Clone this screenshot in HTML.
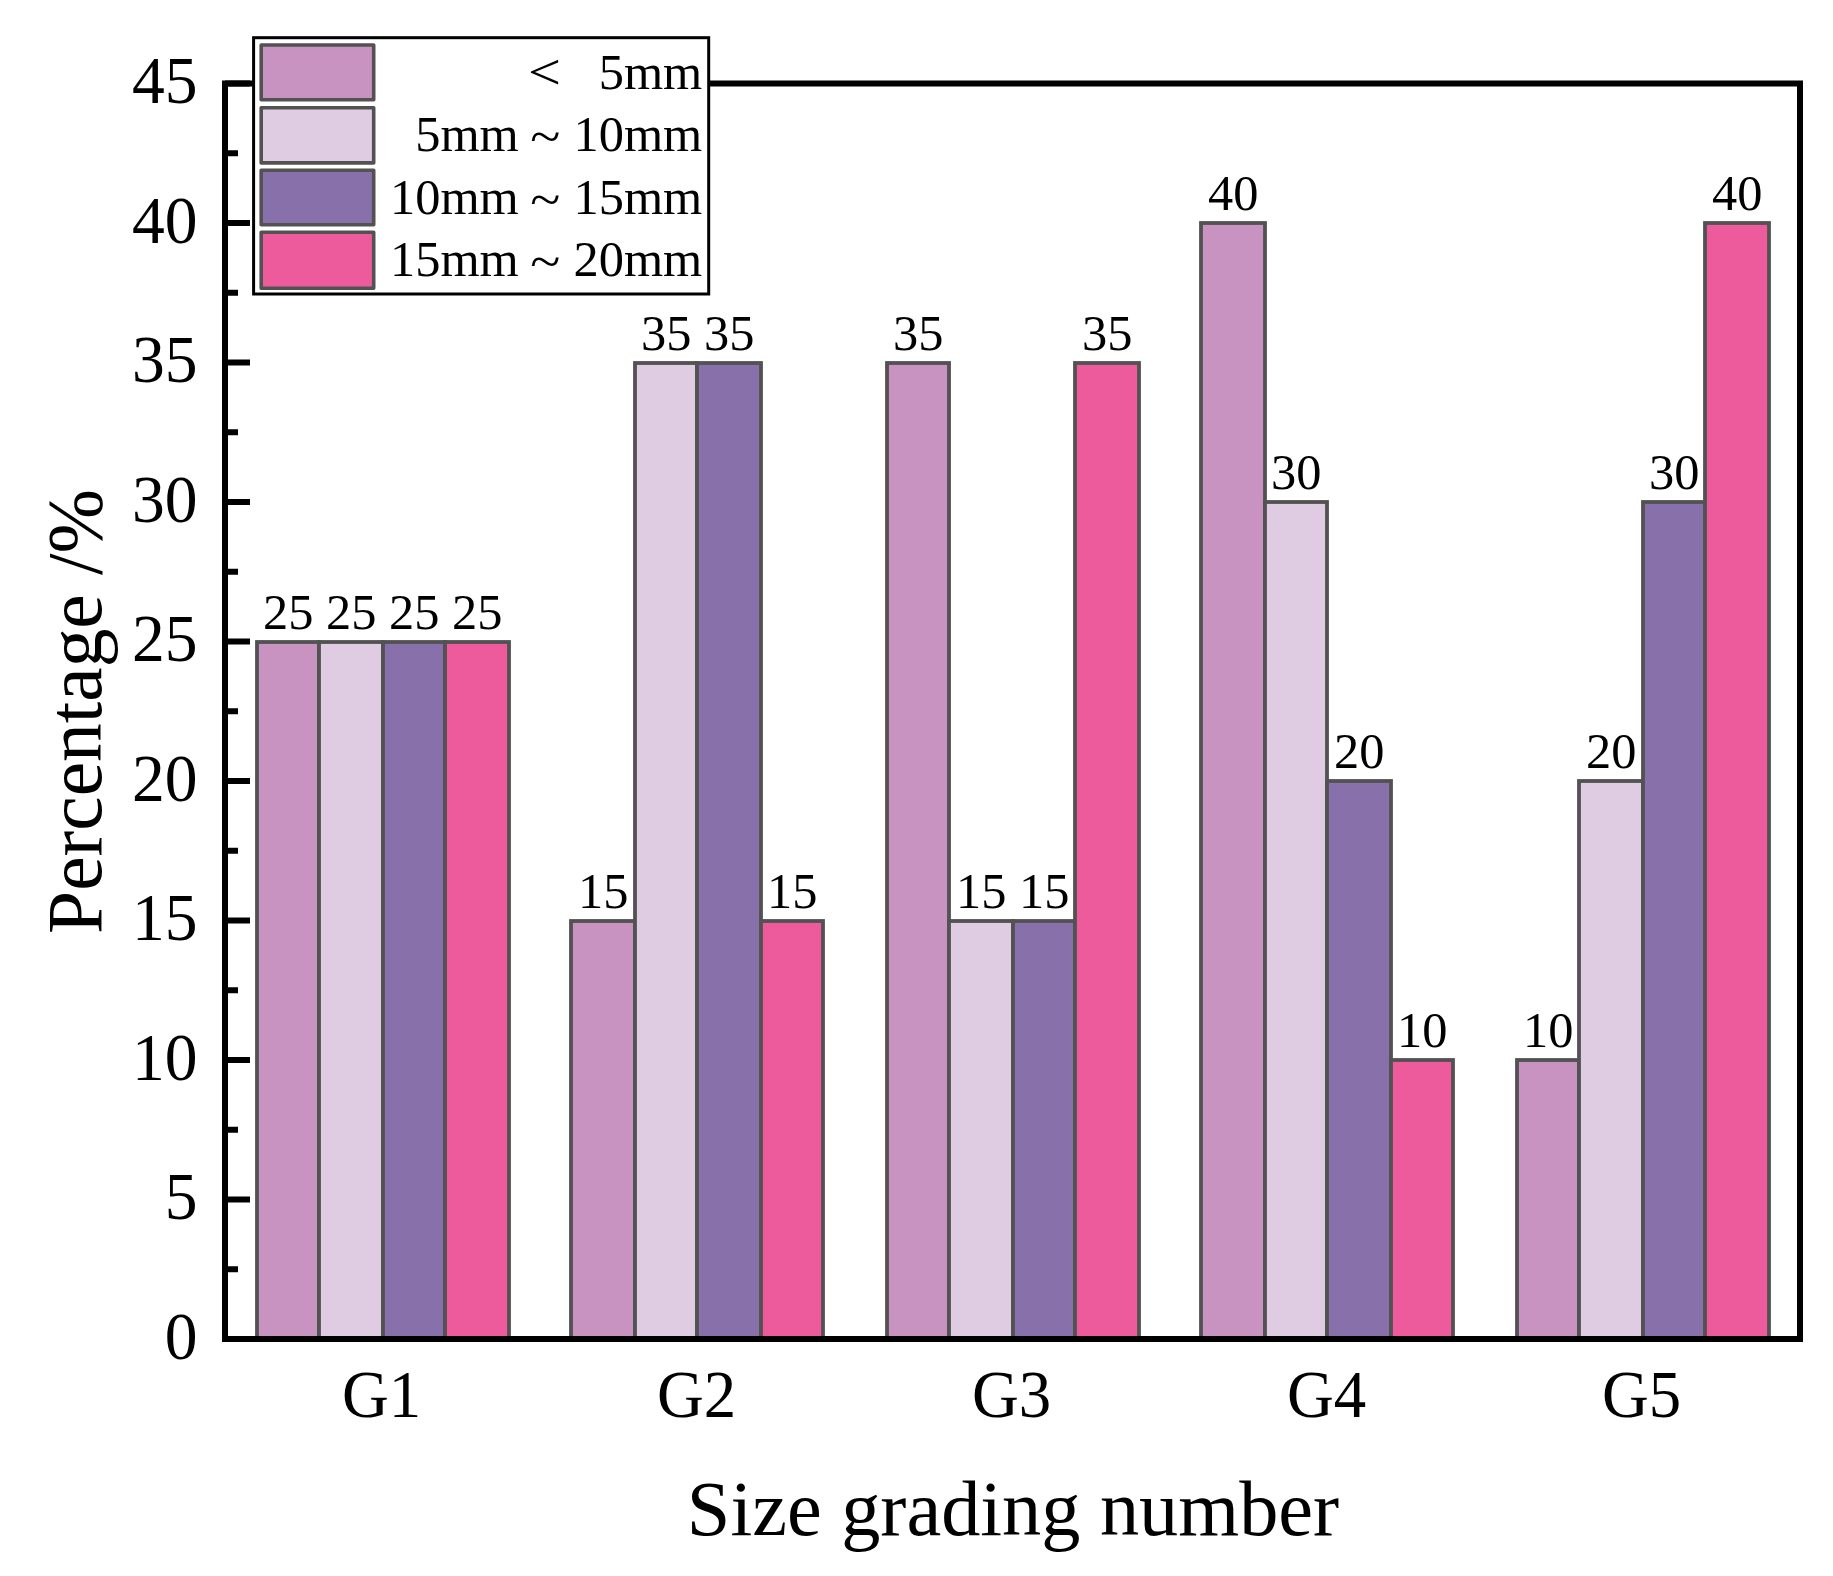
<!DOCTYPE html>
<html><head><meta charset="utf-8"><title>Size grading chart</title>
<style>html,body{margin:0;padding:0;background:#fff}body{width:1833px;height:1576px;overflow:hidden}</style></head>
<body>
<svg width="1833" height="1576" viewBox="0 0 1833 1576" style="display:block">
<rect width="1833" height="1576" fill="#fff"/>
<rect x="257" y="642" width="62" height="697.00" fill="#C893C0" stroke="#525252" stroke-width="3.8"/>
<text x="288.30" y="629.20" font-size="50.4" text-anchor="middle" font-family="Liberation Serif, Times New Roman, serif">25</text>
<rect x="319" y="642" width="64" height="697.00" fill="#DFCCE3" stroke="#525252" stroke-width="3.8"/>
<text x="351.30" y="629.20" font-size="50.4" text-anchor="middle" font-family="Liberation Serif, Times New Roman, serif">25</text>
<rect x="383" y="642" width="62" height="697.00" fill="#8870AB" stroke="#525252" stroke-width="3.8"/>
<text x="414.30" y="629.20" font-size="50.4" text-anchor="middle" font-family="Liberation Serif, Times New Roman, serif">25</text>
<rect x="445" y="642" width="64" height="697.00" fill="#EE5B9D" stroke="#525252" stroke-width="3.8"/>
<text x="477.30" y="629.20" font-size="50.4" text-anchor="middle" font-family="Liberation Serif, Times New Roman, serif">25</text>
<rect x="571" y="921" width="64" height="418.00" fill="#C893C0" stroke="#525252" stroke-width="3.8"/>
<text x="603.30" y="908.20" font-size="50.4" text-anchor="middle" font-family="Liberation Serif, Times New Roman, serif">15</text>
<rect x="635" y="363" width="62" height="976.00" fill="#DFCCE3" stroke="#525252" stroke-width="3.8"/>
<text x="666.30" y="350.20" font-size="50.4" text-anchor="middle" font-family="Liberation Serif, Times New Roman, serif">35</text>
<rect x="697" y="363" width="64" height="976.00" fill="#8870AB" stroke="#525252" stroke-width="3.8"/>
<text x="729.30" y="350.20" font-size="50.4" text-anchor="middle" font-family="Liberation Serif, Times New Roman, serif">35</text>
<rect x="761" y="921" width="62" height="418.00" fill="#EE5B9D" stroke="#525252" stroke-width="3.8"/>
<text x="792.30" y="908.20" font-size="50.4" text-anchor="middle" font-family="Liberation Serif, Times New Roman, serif">15</text>
<rect x="887" y="363" width="62" height="976.00" fill="#C893C0" stroke="#525252" stroke-width="3.8"/>
<text x="918.30" y="350.20" font-size="50.4" text-anchor="middle" font-family="Liberation Serif, Times New Roman, serif">35</text>
<rect x="949" y="921" width="64" height="418.00" fill="#DFCCE3" stroke="#525252" stroke-width="3.8"/>
<text x="981.30" y="908.20" font-size="50.4" text-anchor="middle" font-family="Liberation Serif, Times New Roman, serif">15</text>
<rect x="1013" y="921" width="62" height="418.00" fill="#8870AB" stroke="#525252" stroke-width="3.8"/>
<text x="1044.30" y="908.20" font-size="50.4" text-anchor="middle" font-family="Liberation Serif, Times New Roman, serif">15</text>
<rect x="1075" y="363" width="64" height="976.00" fill="#EE5B9D" stroke="#525252" stroke-width="3.8"/>
<text x="1107.30" y="350.20" font-size="50.4" text-anchor="middle" font-family="Liberation Serif, Times New Roman, serif">35</text>
<rect x="1201" y="223" width="64" height="1116.00" fill="#C893C0" stroke="#525252" stroke-width="3.8"/>
<text x="1233.30" y="210.20" font-size="50.4" text-anchor="middle" font-family="Liberation Serif, Times New Roman, serif">40</text>
<rect x="1265" y="502" width="62" height="837.00" fill="#DFCCE3" stroke="#525252" stroke-width="3.8"/>
<text x="1296.30" y="489.20" font-size="50.4" text-anchor="middle" font-family="Liberation Serif, Times New Roman, serif">30</text>
<rect x="1327" y="781" width="64" height="558.00" fill="#8870AB" stroke="#525252" stroke-width="3.8"/>
<text x="1359.30" y="768.20" font-size="50.4" text-anchor="middle" font-family="Liberation Serif, Times New Roman, serif">20</text>
<rect x="1391" y="1060" width="62" height="279.00" fill="#EE5B9D" stroke="#525252" stroke-width="3.8"/>
<text x="1422.30" y="1047.20" font-size="50.4" text-anchor="middle" font-family="Liberation Serif, Times New Roman, serif">10</text>
<rect x="1517" y="1060" width="62" height="279.00" fill="#C893C0" stroke="#525252" stroke-width="3.8"/>
<text x="1548.30" y="1047.20" font-size="50.4" text-anchor="middle" font-family="Liberation Serif, Times New Roman, serif">10</text>
<rect x="1579" y="781" width="64" height="558.00" fill="#DFCCE3" stroke="#525252" stroke-width="3.8"/>
<text x="1611.30" y="768.20" font-size="50.4" text-anchor="middle" font-family="Liberation Serif, Times New Roman, serif">20</text>
<rect x="1643" y="502" width="62" height="837.00" fill="#8870AB" stroke="#525252" stroke-width="3.8"/>
<text x="1674.30" y="489.20" font-size="50.4" text-anchor="middle" font-family="Liberation Serif, Times New Roman, serif">30</text>
<rect x="1705" y="223" width="64" height="1116.00" fill="#EE5B9D" stroke="#525252" stroke-width="3.8"/>
<text x="1737.30" y="210.20" font-size="50.4" text-anchor="middle" font-family="Liberation Serif, Times New Roman, serif">40</text>
<rect x="225.0" y="83.5" width="1575.0" height="1255.5" fill="none" stroke="#000" stroke-width="6"/>
<line x1="225.0" y1="1339.00" x2="250" y2="1339.00" stroke="#000" stroke-width="6"/>
<text x="197.4" y="1358.70" font-size="67.2" text-anchor="end" textLength="32.76" lengthAdjust="spacingAndGlyphs" font-family="Liberation Serif, Times New Roman, serif">0</text>
<line x1="225.0" y1="1269.25" x2="238" y2="1269.25" stroke="#000" stroke-width="6"/>
<line x1="225.0" y1="1199.50" x2="250" y2="1199.50" stroke="#000" stroke-width="6"/>
<text x="197.4" y="1219.20" font-size="67.2" text-anchor="end" textLength="32.76" lengthAdjust="spacingAndGlyphs" font-family="Liberation Serif, Times New Roman, serif">5</text>
<line x1="225.0" y1="1129.75" x2="238" y2="1129.75" stroke="#000" stroke-width="6"/>
<line x1="225.0" y1="1060.00" x2="250" y2="1060.00" stroke="#000" stroke-width="6"/>
<text x="197.4" y="1079.70" font-size="67.2" text-anchor="end" textLength="65.52" lengthAdjust="spacingAndGlyphs" font-family="Liberation Serif, Times New Roman, serif">10</text>
<line x1="225.0" y1="990.25" x2="238" y2="990.25" stroke="#000" stroke-width="6"/>
<line x1="225.0" y1="920.50" x2="250" y2="920.50" stroke="#000" stroke-width="6"/>
<text x="197.4" y="940.20" font-size="67.2" text-anchor="end" textLength="65.52" lengthAdjust="spacingAndGlyphs" font-family="Liberation Serif, Times New Roman, serif">15</text>
<line x1="225.0" y1="850.75" x2="238" y2="850.75" stroke="#000" stroke-width="6"/>
<line x1="225.0" y1="781.00" x2="250" y2="781.00" stroke="#000" stroke-width="6"/>
<text x="197.4" y="800.70" font-size="67.2" text-anchor="end" textLength="65.52" lengthAdjust="spacingAndGlyphs" font-family="Liberation Serif, Times New Roman, serif">20</text>
<line x1="225.0" y1="711.25" x2="238" y2="711.25" stroke="#000" stroke-width="6"/>
<line x1="225.0" y1="641.50" x2="250" y2="641.50" stroke="#000" stroke-width="6"/>
<text x="197.4" y="661.20" font-size="67.2" text-anchor="end" textLength="65.52" lengthAdjust="spacingAndGlyphs" font-family="Liberation Serif, Times New Roman, serif">25</text>
<line x1="225.0" y1="571.75" x2="238" y2="571.75" stroke="#000" stroke-width="6"/>
<line x1="225.0" y1="502.00" x2="250" y2="502.00" stroke="#000" stroke-width="6"/>
<text x="197.4" y="521.70" font-size="67.2" text-anchor="end" textLength="65.52" lengthAdjust="spacingAndGlyphs" font-family="Liberation Serif, Times New Roman, serif">30</text>
<line x1="225.0" y1="432.25" x2="238" y2="432.25" stroke="#000" stroke-width="6"/>
<line x1="225.0" y1="362.50" x2="250" y2="362.50" stroke="#000" stroke-width="6"/>
<text x="197.4" y="382.20" font-size="67.2" text-anchor="end" textLength="65.52" lengthAdjust="spacingAndGlyphs" font-family="Liberation Serif, Times New Roman, serif">35</text>
<line x1="225.0" y1="292.75" x2="238" y2="292.75" stroke="#000" stroke-width="6"/>
<line x1="225.0" y1="223.00" x2="250" y2="223.00" stroke="#000" stroke-width="6"/>
<text x="197.4" y="242.70" font-size="67.2" text-anchor="end" textLength="65.52" lengthAdjust="spacingAndGlyphs" font-family="Liberation Serif, Times New Roman, serif">40</text>
<line x1="225.0" y1="153.25" x2="238" y2="153.25" stroke="#000" stroke-width="6"/>
<line x1="225.0" y1="83.50" x2="250" y2="83.50" stroke="#000" stroke-width="6"/>
<text x="197.4" y="103.20" font-size="67.2" text-anchor="end" textLength="65.52" lengthAdjust="spacingAndGlyphs" font-family="Liberation Serif, Times New Roman, serif">45</text>
<text x="381.50" y="1417" font-size="67.2" text-anchor="middle" textLength="79.2" lengthAdjust="spacingAndGlyphs" font-family="Liberation Serif, Times New Roman, serif">G1</text>
<text x="696.50" y="1417" font-size="67.2" text-anchor="middle" textLength="79.2" lengthAdjust="spacingAndGlyphs" font-family="Liberation Serif, Times New Roman, serif">G2</text>
<text x="1011.50" y="1417" font-size="67.2" text-anchor="middle" textLength="79.2" lengthAdjust="spacingAndGlyphs" font-family="Liberation Serif, Times New Roman, serif">G3</text>
<text x="1326.50" y="1417" font-size="67.2" text-anchor="middle" textLength="79.2" lengthAdjust="spacingAndGlyphs" font-family="Liberation Serif, Times New Roman, serif">G4</text>
<text x="1641.50" y="1417" font-size="67.2" text-anchor="middle" textLength="79.2" lengthAdjust="spacingAndGlyphs" font-family="Liberation Serif, Times New Roman, serif">G5</text>
<text x="1013" y="1534.8" font-size="78.3" text-anchor="middle" font-family="Liberation Serif, Times New Roman, serif">Size grading number</text>
<text transform="translate(101.1,711.4) rotate(-90)" font-size="78.3" text-anchor="middle" textLength="445" lengthAdjust="spacingAndGlyphs" font-family="Liberation Serif, Times New Roman, serif">Percentage /%</text>
<rect x="253.6" y="37.7" width="455.1" height="256.3" fill="#fff" stroke="#000" stroke-width="3"/>
<rect x="261.2" y="45.00" width="112.50" height="54.70" fill="#C893C0" stroke="#525252" stroke-width="3.6" stroke-linejoin="round"/>
<rect x="261.2" y="107.80" width="112.50" height="55.10" fill="#DFCCE3" stroke="#525252" stroke-width="3.6" stroke-linejoin="round"/>
<rect x="261.2" y="170.30" width="112.50" height="54.40" fill="#8870AB" stroke="#525252" stroke-width="3.6" stroke-linejoin="round"/>
<rect x="261.2" y="232.20" width="112.50" height="56.00" fill="#EE5B9D" stroke="#525252" stroke-width="3.6" stroke-linejoin="round"/>
<text x="544.5" y="89.0" font-size="50.4" text-anchor="middle" textLength="33" lengthAdjust="spacingAndGlyphs" font-family="Liberation Serif, Times New Roman, serif">&lt;</text>
<text x="702.3" y="89.0" font-size="50.4" text-anchor="end" font-family="Liberation Serif, Times New Roman, serif">5mm</text>
<text x="518.8" y="151.0" font-size="50.4" text-anchor="end" font-family="Liberation Serif, Times New Roman, serif">5mm</text>
<text x="545.2" y="153.0" font-size="50.4" text-anchor="middle" textLength="30" lengthAdjust="spacingAndGlyphs" font-family="Liberation Serif, Times New Roman, serif">~</text>
<text x="702.3" y="151.0" font-size="50.4" text-anchor="end" font-family="Liberation Serif, Times New Roman, serif">10mm</text>
<text x="518.8" y="213.8" font-size="50.4" text-anchor="end" font-family="Liberation Serif, Times New Roman, serif">10mm</text>
<text x="545.2" y="215.8" font-size="50.4" text-anchor="middle" textLength="30" lengthAdjust="spacingAndGlyphs" font-family="Liberation Serif, Times New Roman, serif">~</text>
<text x="702.3" y="213.8" font-size="50.4" text-anchor="end" font-family="Liberation Serif, Times New Roman, serif">15mm</text>
<text x="518.8" y="276.0" font-size="50.4" text-anchor="end" font-family="Liberation Serif, Times New Roman, serif">15mm</text>
<text x="545.2" y="278.0" font-size="50.4" text-anchor="middle" textLength="30" lengthAdjust="spacingAndGlyphs" font-family="Liberation Serif, Times New Roman, serif">~</text>
<text x="702.3" y="276.0" font-size="50.4" text-anchor="end" font-family="Liberation Serif, Times New Roman, serif">20mm</text>
</svg>
</body></html>
